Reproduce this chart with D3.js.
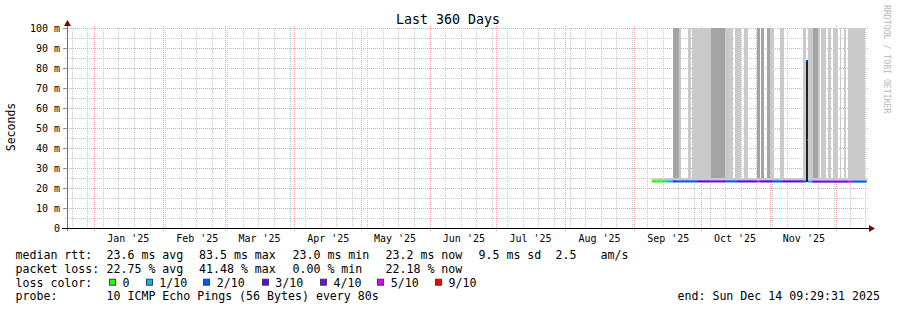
<!DOCTYPE html>
<html>
<head>
<meta charset="utf-8">
<script src="https://cdn.jsdelivr.net/npm/d3@7"></script>
<style>
body { margin: 0; background: #fff; }
svg { display: block; font-family: "DejaVu Sans Mono", monospace; }
text { white-space: pre; }
</style>
</head>
<body>
<svg></svg>
<script>
// time range of the graph
var endTime = new Date(Date.UTC(2025, 11, 14, 9, 29, 31))
var startTime = new Date(endTime.getTime() - 360 * 864e5)

var yTickValues = [0, 10, 20, 30, 40, 50, 60, 70, 80, 90, 100]
var yTickLabels = ["0", "10 m", "20 m", "30 m", "40 m", "50 m", "60 m", "70 m", "80 m", "90 m", "100 m"]
var monthTickLabels = ["Jan '25", "Feb '25", "Mar '25", "Apr '25", "May '25", "Jun '25",
                       "Jul '25", "Aug '25", "Sep '25", "Oct '25", "Nov '25"]

// loss colours (smokeping default)
var lossLabels = ["0", "1/10", "2/10", "3/10", "4/10", "5/10", "9/10"]
var lossColors = ["#26ff00", "#00b8ff", "#0059ff", "#5e00ff", "#7e00ff", "#dd00ff", "#ff0000"]

// smoke: [start, end, low ms, high ms, shade]
var smokeBand = [["2025-09-08T15:00", "2025-12-14T06:00", 22.8, 25.0, 1]]
var smokeBars = [
  ["2025-09-18T02:00", "2025-09-20T19:00", 2],
  ["2025-09-20T19:00", "2025-09-21T17:00", 1],
  ["2025-09-24T20:00", "2025-09-26T05:00", 1],
  ["2025-09-26T16:00", "2025-10-05T05:00", 1],
  ["2025-10-05T05:00", "2025-10-11T12:00", 2],
  ["2025-10-11T12:00", "2025-10-15T02:00", 1],
  ["2025-10-16T00:00", "2025-10-18T17:00", 1],
  ["2025-10-20T01:00", "2025-10-21T20:00", 1],
  ["2025-10-25T22:00", "2025-10-27T06:00", 2],
  ["2025-10-27T17:00", "2025-10-29T01:00", 2],
  ["2025-10-30T10:00", "2025-10-31T18:00", 2],
  ["2025-10-31T18:00", "2025-11-02T13:00", 1],
  ["2025-11-05T06:00", "2025-11-07T01:00", 1],
  ["2025-11-15T14:00", "2025-11-16T23:00", 1],
  ["2025-11-17T20:00", "2025-11-20T02:00", 1],
  ["2025-11-20T02:00", "2025-11-22T08:00", 2],
  ["2025-11-22T08:00", "2025-11-23T06:00", 1],
  ["2025-11-23T17:00", "2025-11-25T23:00", 1],
  ["2025-11-26T20:00", "2025-11-28T05:00", 1],
  ["2025-11-29T02:00", "2025-12-01T08:00", 1],
  ["2025-12-02T06:00", "2025-12-02T17:00", 1],
  ["2025-12-04T01:00", "2025-12-04T23:00", 1],
  ["2025-12-05T20:00", "2025-12-13T12:00", 1]
]
var barTop = 120   // pings that go off the top of the graph
var spikeSmoke = [["2025-11-16T23:00", "2025-11-17T20:00", 23.0, 84.0]]

// median rtt: [from, ms]
var medianSteps = [
  ["2025-09-08T15:00", 23.3],
  ["2025-11-16T23:00", 83.5],
  ["2025-11-17T09:00", 44.0],
  ["2025-11-17T20:00", 23.2]
]
var medianEnd = "2025-12-14T06:00"

// loss: [from, index into lossColors]
var lossSteps = [
  ["2025-09-08T15:00", 0],
  ["2025-09-14T23:00", 1],
  ["2025-09-18T02:00", 3],
  ["2025-09-19T11:00", 2],
  ["2025-09-28T22:00", 3],
  ["2025-10-04T18:00", 4],
  ["2025-10-10T14:00", 3],
  ["2025-10-11T12:00", 2],
  ["2025-10-16T22:00", 3],
  ["2025-10-25T22:00", 5],
  ["2025-10-27T00:00", 3],
  ["2025-11-02T02:00", 2],
  ["2025-11-06T04:00", 3],
  ["2025-11-15T14:00", 2],
  ["2025-11-17T20:00", 1],
  ["2025-11-19T16:00", 4],
  ["2025-12-05T20:00", 5],
  ["2025-12-07T16:00", 2]
]

var legendRows = [
  { label: "median rtt:", items: ["23.6 ms avg", "83.5 ms max", "23.0 ms min", "23.2 ms now", "9.5 ms sd", "2.5", "am/s"] },
  { label: "packet loss:", items: ["22.75 % avg", "41.48 % max", "0.00 % min", "22.18 % now"] }
]
var probeText = "10 ICMP Echo Pings (56 Bytes) every 80s"
var endText = "end: Sun Dec 14 09:29:31 2025"

var screen = { width: 897, height: 310 }
var plot = { left: 67, right: 867, top: 28, bottom: 228 }
var smokeShades = { 1: "#cacaca", 2: "#a4a4a4" }

var parse = function(s) { return new Date(s + "Z") }

var svg = d3.select("svg")
  .attr("width", screen.width)
  .attr("height", screen.height)

var xScale = d3.scaleUtc()
  .domain([startTime, endTime])
  .range([plot.left, plot.right])
var yScale = d3.scaleLinear()
  .domain([0, 100])
  .range([plot.bottom, plot.top])

var crispX = function(d) { return Math.round(xScale(d)) - 0.5 }
var crispY = function(v) { return Math.round(yScale(v)) + 0.5 }

svg.append("clipPath").attr("id", "plotclip")
  .append("rect")
  .attr("x", plot.left).attr("y", plot.top)
  .attr("width", plot.right - plot.left).attr("height", plot.bottom - plot.top)

// grid
var grid = svg.append("g").attr("stroke-dasharray", "1,1").attr("stroke-width", 1)

var minorY = d3.range(5, 100, 10)
grid.selectAll(".hminor").data(minorY).enter().append("line")
  .attr("x1", plot.left - 2).attr("x2", plot.right + 2)
  .attr("y1", crispY).attr("y2", crispY)
  .attr("stroke", "#c8c8c8")

var weeks = d3.utcSunday.range(startTime, endTime)
grid.selectAll(".vminor").data(weeks).enter().append("line")
  .attr("x1", crispX).attr("x2", crispX)
  .attr("y1", plot.top).attr("y2", plot.bottom)
  .attr("stroke", "#c8c8c8")

grid.selectAll(".hmajor").data(yTickValues.slice(1)).enter().append("line")
  .attr("x1", plot.left - 2).attr("x2", plot.right + 2)
  .attr("y1", crispY).attr("y2", crispY)
  .attr("stroke", "#f4a0a0")

var months = d3.utcMonth.range(startTime, endTime)
grid.selectAll(".vmajor").data(months).enter().append("line")
  .attr("x1", crispX).attr("x2", crispX)
  .attr("y1", plot.top - 2).attr("y2", plot.bottom + 3)
  .attr("stroke", "#f4a0a0")

// small ticks on the y axis
svg.append("g").selectAll("line").data(yTickValues.slice(1)).enter().append("line")
  .attr("x1", plot.left - 4).attr("x2", plot.left)
  .attr("y1", crispY).attr("y2", crispY)
  .attr("stroke", "#909090")

// smoke
var data = svg.append("g").attr("clip-path", "url(#plotclip)")

data.selectAll(".band").data(smokeBand).enter().append("rect")
  .attr("x", function(d) { return xScale(parse(d[0])) })
  .attr("width", function(d) { return xScale(parse(d[1])) - xScale(parse(d[0])) })
  .attr("y", function(d) { return yScale(d[3]) })
  .attr("height", function(d) { return yScale(d[2]) - yScale(d[3]) })
  .attr("fill", function(d) { return smokeShades[d[4]] })

data.selectAll(".bar").data(smokeBars).enter().append("rect")
  .attr("x", function(d) { return Math.round(xScale(parse(d[0]))) })
  .attr("width", function(d) { return Math.round(xScale(parse(d[1]))) - Math.round(xScale(parse(d[0]))) })
  .attr("y", yScale(barTop))
  .attr("height", yScale(smokeBand[0][3]) - yScale(barTop))
  .attr("fill", function(d) { return smokeShades[d[2]] })

data.selectAll(".spike").data(spikeSmoke).enter().append("rect")
  .attr("x", function(d) { return Math.round(xScale(parse(d[0]))) })
  .attr("width", function(d) { return Math.round(xScale(parse(d[1]))) - Math.round(xScale(parse(d[0]))) })
  .attr("y", function(d) { return yScale(d[3]) })
  .attr("height", function(d) { return yScale(d[2]) - yScale(d[3]) })
  .attr("fill", "#222222")

// median line, split at each change of value or loss
var cuts = medianSteps.map(function(d) { return d[0] })
  .concat(lossSteps.map(function(d) { return d[0] }))
cuts = Array.from(new Set(cuts)).map(parse).sort(function(a, b) { return a - b })
var stepAt = function(steps, t) {
  var i = d3.bisector(function(d) { return parse(d[0]) }).right(steps, t) - 1
  return steps[Math.max(i, 0)][1]
}
var pieces = cuts.map(function(t, i) {
  var t2 = i < cuts.length - 1 ? cuts[i + 1] : parse(medianEnd)
  return { t1: t, t2: t2, ms: stepAt(medianSteps, t), loss: stepAt(lossSteps, t) }
})
data.selectAll(".median").data(pieces).enter().append("rect")
  .attr("x", function(d) { return xScale(d.t1) })
  .attr("width", function(d) { return Math.max(1, xScale(d.t2) - xScale(d.t1)) })
  .attr("y", function(d) { return yScale(d.ms) - 1 })
  .attr("height", 2)
  .attr("fill", function(d) { return lossColors[d.loss] })

// axes
svg.append("line")
  .attr("x1", plot.left + 0.5).attr("x2", plot.left + 0.5)
  .attr("y1", plot.bottom + 3).attr("y2", plot.top - 6)
  .attr("stroke", "#707070")
svg.append("line")
  .attr("x1", plot.left - 5).attr("x2", plot.right + 3)
  .attr("y1", plot.bottom + 0.5).attr("y2", plot.bottom + 0.5)
  .attr("stroke", "#000")
svg.append("path")
  .attr("d", "M" + (plot.left - 3) + "," + (plot.top - 2) + "L" + (plot.left + 0.5) + "," + (plot.top - 8) + "L" + (plot.left + 4) + "," + (plot.top - 2) + "Z")
  .attr("fill", "#7f0000")
svg.append("path")
  .attr("d", "M" + (plot.right + 2) + "," + (plot.bottom - 3) + "L" + (plot.right + 8) + "," + (plot.bottom + 0.5) + "L" + (plot.right + 2) + "," + (plot.bottom + 4) + "Z")
  .attr("fill", "#7f0000")

// tick labels
svg.append("g").selectAll("text").data(yTickValues).enter().append("text")
  .attr("x", plot.left - 7)
  .attr("y", function(d) { return yScale(d) + 4 })
  .attr("text-anchor", "end")
  .attr("font-size", "10px")
  .attr("fill", "#000")
  .text(function(d, i) { return yTickLabels[i] })

svg.append("g").selectAll("text").data(monthTickLabels).enter().append("text")
  .attr("x", function(d, i) { return xScale(d3.utcDay.offset(months[i], 15)) })
  .attr("y", plot.bottom + 14)
  .attr("text-anchor", "middle")
  .attr("font-size", "10px")
  .attr("fill", "#000")
  .text(function(d) { return d })

// titles
svg.append("text")
  .attr("x", 448).attr("y", 24)
  .attr("text-anchor", "middle")
  .attr("font-size", "13.3px")
  .text("Last 360 Days")

svg.append("text")
  .attr("transform", "translate(15,127) rotate(-90)")
  .attr("text-anchor", "middle")
  .attr("font-size", "11.5px")
  .text("Seconds")

svg.append("text")
  .attr("transform", "translate(883.5,5) rotate(90)")
  .attr("font-size", "8.2px")
  .attr("fill", "#b8b8b8")
  .text("RRDTOOL / TOBI OETIKER")

// legend
var legend = svg.append("g").attr("font-size", "11.6px").attr("fill", "#000")
var colX = [106.5, 199, 292.5, 385.5, 478.5, 555.5, 600.5]
var rowY = [259.3, 273, 286.7, 300.3]

legendRows.forEach(function(row, r) {
  legend.append("text").attr("x", 15.5).attr("y", rowY[r]).text(row.label)
  legend.selectAll(".row" + r).data(row.items).enter().append("text")
    .attr("x", function(d, i) { return colX[i] })
    .attr("y", rowY[r])
    .text(function(d) { return d })
})

legend.append("text").attr("x", 15.5).attr("y", rowY[2]).text("loss color:")
var boxX = [109, 145.7, 203.3, 261.7, 320, 377.3, 435]
var swatch = legend.selectAll(".swatch").data(lossLabels).enter().append("g")
swatch.append("rect")
  .attr("x", function(d, i) { return Math.round(boxX[i]) + 0.5 })
  .attr("y", rowY[2] - 7.5)
  .attr("width", 6).attr("height", 6)
  .attr("fill", function(d, i) { return lossColors[i] })
  .attr("stroke", "#404040")
swatch.append("text")
  .attr("x", function(d, i) { return boxX[i] + 13.5 })
  .attr("y", rowY[2])
  .text(function(d) { return d })

legend.append("text").attr("x", 15.5).attr("y", rowY[3]).text("probe:")
legend.append("text").attr("x", 106.5).attr("y", rowY[3]).text(probeText)
legend.append("text").attr("x", 677.5).attr("y", rowY[3]).text(endText)
</script>
</body>
</html>
